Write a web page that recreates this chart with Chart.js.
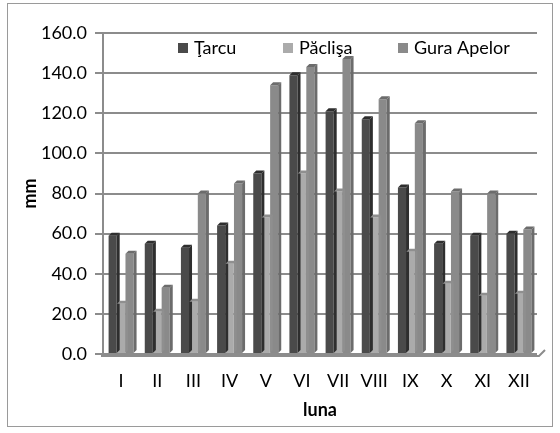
<!DOCTYPE html>
<html>
<head>
<meta charset="utf-8">
<script src="https://cdn.jsdelivr.net/npm/chart.js@4/dist/chart.umd.min.js"></script>
<style>
  html, body { margin: 0; padding: 0; background: #fff; }
  #wrap { width: 560px; height: 433px; position: relative; }
</style>
</head>
<body>
<div id="wrap"><canvas id="c" width="560" height="433"></canvas></div>
<script>
// Monthly precipitation (mm) at three stations
const months = ['I', 'II', 'III', 'IV', 'V', 'VI', 'VII', 'VIII', 'IX', 'X', 'XI', 'XII'];
const tarcu = [59, 55, 53, 64, 90, 139, 121, 117, 83, 55, 59, 60];
const paclisa = [25, 21, 26, 45, 68, 90, 81, 68, 51, 35, 29, 30];
const guraApelor = [50, 33, 80, 85, 134, 143, 147, 127, 115, 81, 80, 62];
const seriesNames = ['Ţarcu', 'Păclişa', 'Gura Apelor'];
const yTicks = [0, 20, 40, 60, 80, 100, 120, 140, 160];

const FONT = 'Lato, "Open Sans", sans-serif';
const FS = 18;
const colors = ['#4a4a4a', '#ababab', '#8a8a8a'];
const sideColors = ['#2e2e2e', '#8f8f8f', '#6c6c6c'];

// Draws the outer frame, the 3D side faces of the bars, the floor and the in-plot legend
const decor = {
  id: 'decor',
  beforeDraw(chart) {
    const ctx = chart.ctx;
    ctx.save();
    ctx.fillStyle = '#fff';
    ctx.fillRect(0, 0, chart.width, chart.height);
    ctx.strokeStyle = '#9a9a9a';
    ctx.lineWidth = 1;
    ctx.strokeRect(7.5, 3.5, 545, 423);
    ctx.restore();
  },
  afterDatasetsDraw(chart) {
    const ctx = chart.ctx;
    const a = chart.chartArea;
    const d = 3;
    ctx.save();
    chart.data.datasets.forEach((ds, i) => {
      const meta = chart.getDatasetMeta(i);
      meta.data.forEach(bar => {
        const right = bar.x + bar.width / 2;
        const left = bar.x - bar.width / 2;
        ctx.fillStyle = sideColors[i];
        // side face
        ctx.beginPath();
        ctx.moveTo(right, bar.y);
        ctx.lineTo(right + d, bar.y - d);
        ctx.lineTo(right + d, bar.base - d);
        ctx.lineTo(right, bar.base);
        ctx.closePath();
        ctx.fill();
        // top face
        ctx.beginPath();
        ctx.moveTo(left, bar.y);
        ctx.lineTo(left + d, bar.y - d);
        ctx.lineTo(right + d, bar.y - d);
        ctx.lineTo(right, bar.y);
        ctx.closePath();
        ctx.fill();
      });
    });
    // floor edge
    ctx.strokeStyle = '#8c8c8c';
    ctx.lineWidth = 2;
    ctx.beginPath();
    ctx.moveTo(a.left - 2, a.bottom + 2);
    ctx.lineTo(a.right + 2, a.bottom + 2);
    ctx.lineTo(a.right + 8, a.bottom - 4);
    ctx.stroke();

    // legend inside the plot, drawn from the dataset labels and colours
    ctx.font = FS + 'px ' + FONT;
    ctx.textBaseline = 'middle';
    const y = 48;
    const xs = [178, 283, 398];
    chart.data.datasets.forEach((ds, i) => {
      ctx.fillStyle = ds.backgroundColor;
      ctx.fillRect(xs[i], y - 5, 10, 10);
      ctx.fillStyle = '#000';
      ctx.fillText(ds.label, xs[i] + 16, y);
    });
    ctx.restore();
  }
};

const datasets = [tarcu, paclisa, guraApelor].map((vals, i) => ({
  label: seriesNames[i],
  data: vals,
  backgroundColor: colors[i],
  borderWidth: 0,
  barPercentage: 0.96,
  categoryPercentage: 0.7
}));

new Chart(document.getElementById('c'), {
  type: 'bar',
  data: { labels: months, datasets },
  plugins: [decor],
  options: {
    responsive: false,
    animation: false,
    devicePixelRatio: 1,
    layout: { padding: { left: 7, right: 23, top: 33, bottom: 12 } },
    plugins: { legend: { display: false }, tooltip: { enabled: false } },
    scales: {
      x: {
        afterFit(scale) { scale.height = 67; },
        grid: { display: false, drawTicks: false },
        border: { display: false },
        ticks: { color: '#000', font: { family: FONT, size: FS }, padding: 16 },
        title: { display: true, text: 'luna', color: '#000', font: { family: FONT, size: FS, weight: 'bold' }, padding: { top: 8, bottom: 0 } }
      },
      y: {
        min: 0,
        max: 160,
        afterBuildTicks(scale) { scale.ticks = yTicks.map(v => ({ value: v })); },
        afterFit(scale) { scale.width = 96; },
        grid: { color: '#8c8c8c', lineWidth: 2, tickLength: 8, tickColor: '#8c8c8c' },
        border: { color: '#8c8c8c', width: 2 },
        ticks: {
          color: '#000',
          font: { family: FONT, size: FS },
          padding: 8,
          callback: v => Number(v).toFixed(1)
        },
        title: { display: true, text: 'mm', color: '#000', font: { family: FONT, size: FS, weight: 'bold' }, padding: { top: 12, bottom: 0 } }
      }
    }
  }
});
</script>
</body>
</html>
